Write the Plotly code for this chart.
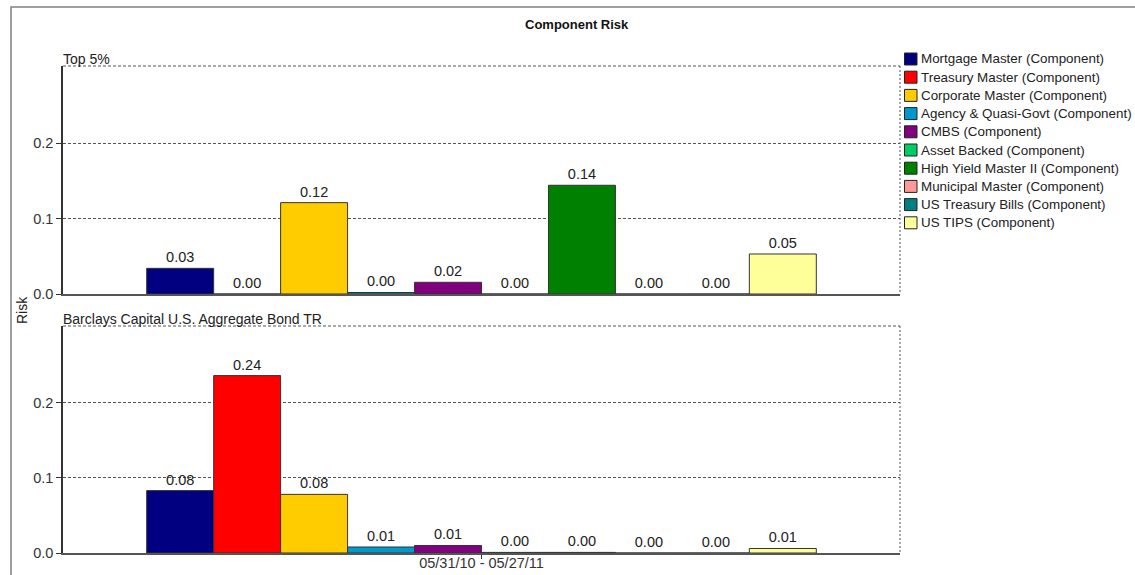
import plotly.graph_objects as go

period = ["05/31/10 - 05/27/11"]
components = [
    "Mortgage Master (Component)",
    "Treasury Master (Component)",
    "Corporate Master (Component)",
    "Agency & Quasi-Govt (Component)",
    "CMBS (Component)",
    "Asset Backed (Component)",
    "High Yield Master II (Component)",
    "Municipal Master (Component)",
    "US Treasury Bills (Component)",
    "US TIPS (Component)",
]
colors = ["#000080", "#FF0000", "#FFCC00", "#0099CC", "#800080",
          "#00CC66", "#008000", "#FF9999", "#008080", "#FFFF99"]
top5_values = [0.034, 0.0, 0.121, 0.002, 0.0155, 0.0, 0.144, 0.0, 0.0, 0.053]
benchmark_values = [0.083, 0.236, 0.078, 0.008, 0.010, 0.0008, 0.0008, 0.0, 0.0, 0.006]
panel_titles = ["Top 5%", "Barclays Capital U.S. Aggregate Bond TR"]

FONT = "Liberation Sans, Arial, sans-serif"
W, H = 1135, 575
L, R = 63, 900
T1, B1 = 66, 294
T2, B2 = 326, 553
ph = B2 - T1

fig = go.Figure()
for i, name in enumerate(components):
    for row, vals in ((1, top5_values), (2, benchmark_values)):
        fig.add_trace(go.Bar(
            x=period, y=[vals[i]], name=name,
            marker=dict(color=colors[i], line=dict(color="#333333", width=1)),
            texttemplate="%{y:.2f}", textposition="outside",
            textfont=dict(family=FONT, size=14.5, color="#222222"),
            cliponaxis=False, showlegend=False, legendgroup=name,
            xaxis="x" if row == 1 else "x2", yaxis="y" if row == 1 else "y2",
            hovertemplate=name + ": %{y:.3f}<extra></extra>",
        ))

top_dom = [(B2 - B1) / ph, 1.0]
bot_dom = [0.0, (B2 - T2) / ph]
yr = [0, 0.302]
grid = dict(showgrid=True, gridcolor="#555555", gridwidth=1, griddash="3px,2px")
yax = dict(range=yr, tickvals=[0, 0.1, 0.2], ticktext=["0.0", "0.1", "0.2"],
           ticks="outside", ticklen=5, tickcolor="#333333",
           showline=True, linecolor="#333333", linewidth=1.5,
           zeroline=False, fixedrange=True, automargin=False,
           tickfont=dict(family=FONT, size=14.5, color="#333333"), **grid)
xax = dict(showline=True, linecolor="#555555", linewidth=1.5, showgrid=False,
           zeroline=False, fixedrange=True, automargin=False)

fig.update_layout(
    width=W, height=H,
    margin=dict(l=L, r=W - R, t=T1, b=H - B2, autoexpand=False),
    paper_bgcolor="white", plot_bgcolor="white",
    barmode="group", bargap=0.2, bargroupgap=0.0,
    font=dict(family=FONT, size=14, color="#222222"),
    xaxis=dict(domain=[0, 1], anchor="y", showticklabels=False, ticks="", **xax),
    xaxis2=dict(domain=[0, 1], anchor="y2", ticks="outside", ticklen=4,
                tickcolor="#333333", ticklabelstandoff=-8,
                tickfont=dict(family=FONT, size=14.5, color="#333333"), **xax),
    yaxis=dict(domain=top_dom, anchor="x", **yax),
    yaxis2=dict(domain=bot_dom, anchor="x2", **yax),
    showlegend=False,
)

def py(px):
    return (B2 - px) / ph

def pxx(px):
    return (px - L) / (R - L)

shapes = []
for t, b in ((T1, B1), (T2, B2)):
    shapes.append(dict(type="line", xref="paper", yref="paper", x0=0, x1=1, y0=py(t), y1=py(t),
                       line=dict(color="#555555", width=1, dash="3px,2px")))
    shapes.append(dict(type="line", xref="paper", yref="paper", x0=1, x1=1, y0=py(t), y1=py(b),
                       line=dict(color="#555555", width=1, dash="2px,2px")))
shapes.append(dict(type="rect", xref="paper", yref="paper", x0=pxx(11), x1=pxx(1200),
                   y0=py(620), y1=py(7), line=dict(color="#808080", width=1.5)))

ann = [
    dict(text="<b>Component Risk</b>", x=pxx(577), y=py(25), xref="paper", yref="paper",
         xanchor="center", yanchor="middle",
         showarrow=False, font=dict(family=FONT, size=13, color="#111111")),
    dict(text=panel_titles[0], x=0, y=py(T1), xref="paper", yref="paper", xanchor="left",
         yanchor="bottom", yshift=-3, xshift=-2, showarrow=False,
         font=dict(family=FONT, size=14, color="#222222")),
    dict(text=panel_titles[1], x=0, y=py(T2), xref="paper", yref="paper", xanchor="left",
         yanchor="bottom", yshift=-3, xshift=-2, showarrow=False,
         font=dict(family=FONT, size=14, color="#222222")),
    dict(text="Risk", x=pxx(22), y=py(310), xref="paper", yref="paper", textangle=-90,
         xanchor="center", yanchor="middle",
         showarrow=False, font=dict(family=FONT, size=14, color="#222222")),
]

# legend (built from the component names and colours)
LEG_Y0, LEG_DY = 59, 18.2
for i, (name, col) in enumerate(zip(components, colors)):
    cy = LEG_Y0 + i * LEG_DY
    shapes.append(dict(type="rect", xref="paper", yref="paper",
                       x0=pxx(904.5), x1=pxx(917), y0=py(cy + 6), y1=py(cy - 6),
                       fillcolor=col, line=dict(color="#222222", width=1)))
    ann.append(dict(text=name, x=pxx(919), y=py(cy), xref="paper", yref="paper",
                    xanchor="left", yanchor="middle", showarrow=False,
                    font=dict(family=FONT, size=13.4, color="#222222")))

fig.update_layout(shapes=shapes, annotations=ann)

fig.write_html("out.html")
